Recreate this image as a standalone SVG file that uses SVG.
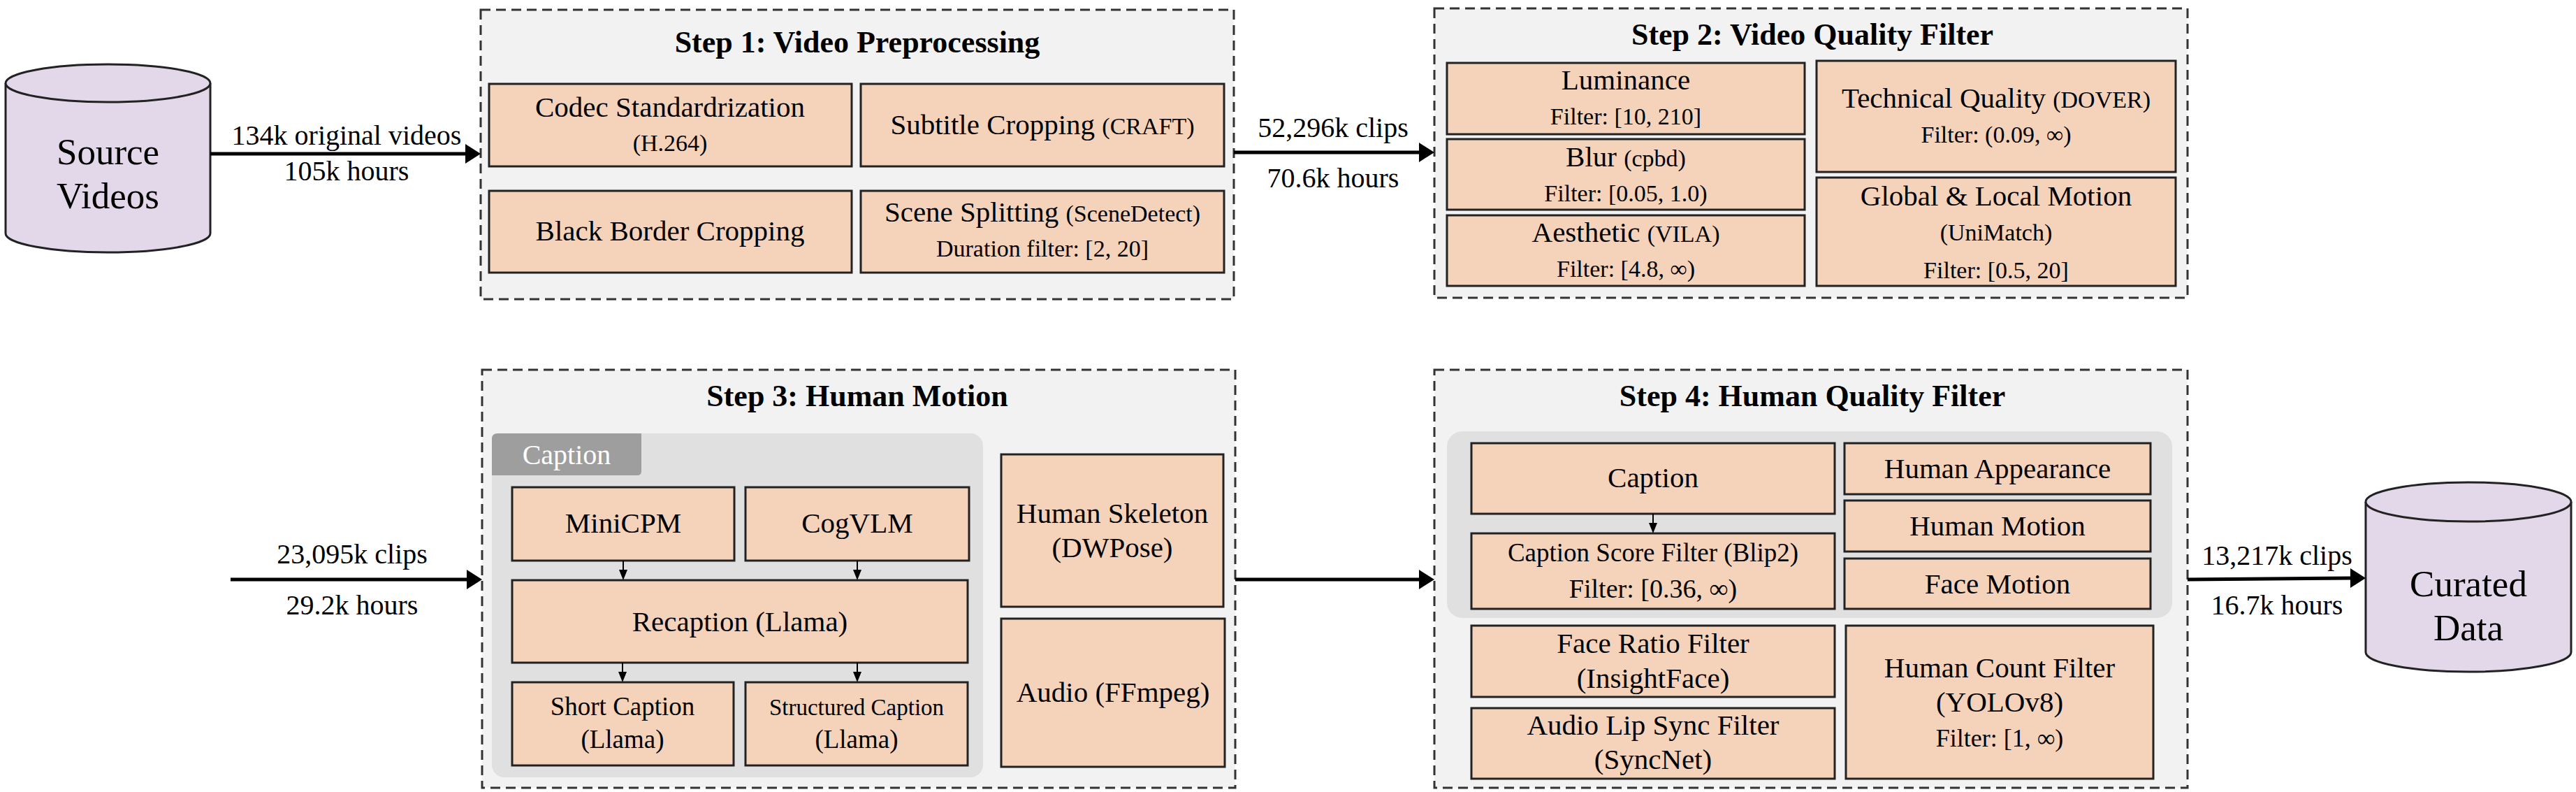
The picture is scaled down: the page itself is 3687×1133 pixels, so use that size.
<svg xmlns="http://www.w3.org/2000/svg" width="3687" height="1133" viewBox="0 0 3687 1133">
<style>
text{font-family:"Liberation Serif","Times New Roman",serif;fill:#000;text-anchor:middle}
.step{fill:#f2f2f2;stroke:#333;stroke-width:3;stroke-dasharray:14 8}
.title{font-size:44px;font-weight:bold}
.b{fill:#f5d3ba;stroke:#222;stroke-width:3}
.t{font-size:41px}
.s{font-size:34px}
.grp{fill:#e0e0e0}
.cyl{fill:#e3d8e9;stroke:#222;stroke-width:3}
.big{font-size:53px}
.lbl{font-size:40px}
.ln{stroke:#000;stroke-width:5;fill:none}
.ln2{stroke:#000;stroke-width:2;fill:none}
</style>

<g id="source">
<path class="cyl" d="M8,119 L8,334 A146.5,27 0 0 0 301,334 L301,119"/>
<ellipse class="cyl" cx="154.5" cy="119" rx="146.5" ry="27"/>
<text class="big" x="154.5" y="235">Source</text>
<text class="big" x="154.5" y="298">Videos</text>
</g>

<g id="step1">
<rect class="step" x="688" y="14" width="1078" height="414"/>
<text class="title" x="1227" y="75">Step 1: Video Preprocessing</text>
<rect class="b" x="700" y="120" width="519" height="118"/>
<text class="t" x="959" y="167">Codec Standardrization</text>
<text class="s" x="959" y="216">(H.264)</text>
<rect class="b" x="1232" y="120" width="520" height="118"/>
<text class="t" x="1492" y="192">Subtitle Cropping <tspan class="s">(CRAFT)</tspan></text>
<rect class="b" x="700" y="273" width="519" height="117"/>
<text class="t" x="959" y="344">Black Border Cropping</text>
<rect class="b" x="1232" y="273" width="520" height="117"/>
<text class="t" x="1492" y="317">Scene Splitting <tspan class="s">(SceneDetect)</tspan></text>
<text class="s" x="1492" y="367">Duration filter: [2, 20]</text>
</g>

<g id="step2">
<rect class="step" x="2053" y="12" width="1078" height="414"/>
<text class="title" x="2594" y="64">Step 2: Video Quality Filter</text>
<rect class="b" x="2071" y="90" width="512" height="102"/>
<text class="t" x="2327" y="128">Luminance</text>
<text class="s" x="2327" y="178">Filter: [10, 210]</text>
<rect class="b" x="2071" y="199" width="512" height="101"/>
<text class="t" x="2327" y="238">Blur <tspan class="s">(cpbd)</tspan></text>
<text class="s" x="2327" y="288">Filter: [0.05, 1.0)</text>
<rect class="b" x="2071" y="308" width="512" height="101"/>
<text class="t" x="2327" y="346">Aesthetic <tspan class="s">(VILA)</tspan></text>
<text class="s" x="2327" y="396">Filter: [4.8, ∞)</text>
<rect class="b" x="2600" y="87" width="514" height="159"/>
<text class="t" x="2857" y="154">Technical Quality <tspan class="s">(DOVER)</tspan></text>
<text class="s" x="2857" y="204">Filter: (0.09, ∞)</text>
<rect class="b" x="2600" y="254" width="514" height="155"/>
<text class="t" x="2857" y="294">Global &amp; Local Motion</text>
<text class="s" x="2857" y="344">(UniMatch)</text>
<text class="s" x="2857" y="398">Filter: [0.5, 20]</text>
</g>

<g id="step3">
<rect class="step" x="690" y="529" width="1078" height="598"/>
<text class="title" x="1227" y="581">Step 3: Human Motion</text>
<rect class="grp" x="704" y="620" width="703" height="492" rx="18"/>
<path d="M704,680 L704,628 Q704,620 712,620 L918,620 L918,674 Q918,680 912,680 Z" fill="#9e9e9e"/>
<text x="811" y="664" style="font-size:40px;fill:#fff">Caption</text>
<rect class="b" x="733" y="697" width="318" height="105"/>
<text class="t" x="892" y="762">MiniCPM</text>
<rect class="b" x="1067" y="697" width="320" height="105"/>
<text class="t" x="1227" y="762">CogVLM</text>
<rect class="b" x="733" y="830" width="652" height="118"/>
<text class="t" x="1059" y="903">Recaption (Llama)</text>
<rect class="b" x="733" y="976" width="317" height="119"/>
<text x="891" y="1023" style="font-size:37px">Short Caption</text>
<text x="891" y="1070" style="font-size:37px">(Llama)</text>
<rect class="b" x="1067" y="976" width="318" height="119"/>
<text x="1226" y="1023" style="font-size:33px">Structured Caption</text>
<text x="1226" y="1070" style="font-size:37px">(Llama)</text>
<rect class="b" x="1433" y="650" width="318" height="218"/>
<text class="t" x="1592" y="748">Human Skeleton</text>
<text class="t" x="1592" y="797">(DWPose)</text>
<rect class="b" x="1433" y="885" width="320" height="212"/>
<text class="t" x="1593" y="1004">Audio (FFmpeg)</text>
</g>

<g id="step4">
<rect class="step" x="2053" y="529" width="1078" height="598"/>
<text class="title" x="2594" y="581">Step 4: Human Quality Filter</text>
<rect class="grp" x="2071" y="617" width="1038" height="267" rx="22"/>
<rect class="b" x="2106" y="634" width="520" height="101"/>
<text class="t" x="2366" y="697">Caption</text>
<rect class="b" x="2106" y="763" width="520" height="108"/>
<text x="2366" y="803" style="font-size:37px">Caption Score Filter (Blip2)</text>
<text x="2366" y="855" style="font-size:38px">Filter: [0.36, ∞)</text>
<rect class="b" x="2640" y="634" width="438" height="73"/>
<text class="t" x="2859" y="684">Human Appearance</text>
<rect class="b" x="2640" y="716" width="438" height="73"/>
<text class="t" x="2859" y="766">Human Motion</text>
<rect class="b" x="2640" y="799" width="438" height="72"/>
<text class="t" x="2859" y="849">Face Motion</text>
<rect class="b" x="2106" y="895" width="520" height="102"/>
<text class="t" x="2366" y="934">Face Ratio Filter</text>
<text class="t" x="2366" y="984">(InsightFace)</text>
<rect class="b" x="2106" y="1013" width="520" height="101"/>
<text class="t" x="2366" y="1051">Audio Lip Sync Filter</text>
<text class="t" x="2366" y="1100">(SyncNet)</text>
<rect class="b" x="2642" y="895" width="440" height="219"/>
<text class="t" x="2862" y="969">Human Count Filter</text>
<text class="t" x="2862" y="1018">(YOLOv8)</text>
<text x="2862" y="1068" style="font-size:36px">Filter: [1, ∞)</text>
</g>

<g id="curated">
<path class="cyl" d="M3386,718 L3386,933 A147,28 0 0 0 3680,933 L3680,718"/>
<ellipse class="cyl" cx="3533" cy="718" rx="147" ry="28"/>
<text class="big" x="3533" y="853">Curated</text>
<text class="big" x="3533" y="916">Data</text>
</g>

<g id="connectors">
<line class="ln" x1="301" y1="220" x2="668" y2="220"/><path d="M666,206 L688,220 L666,234 Z"/>
<line class="ln" x1="1766" y1="218" x2="2033" y2="218"/><path d="M2031,204 L2053,218 L2031,232 Z"/>
<line class="ln" x1="330" y1="829" x2="670" y2="829"/><path d="M668,815 L690,829 L668,843 Z"/>
<line class="ln" x1="1768" y1="829" x2="2033" y2="829"/><path d="M2031,815 L2053,829 L2031,843 Z"/>
<line class="ln" x1="3131" y1="829" x2="3366" y2="827"/><path d="M3364,813 L3386,827 L3364,841 Z"/>
<line class="ln2" x1="892" y1="802" x2="892" y2="816"/><path d="M886,815 L892,830 L898,815 Z"/>
<line class="ln2" x1="1227" y1="802" x2="1227" y2="816"/><path d="M1221,815 L1227,830 L1233,815 Z"/>
<line class="ln2" x1="891" y1="948" x2="891" y2="962"/><path d="M885,961 L891,976 L897,961 Z"/>
<line class="ln2" x1="1227" y1="948" x2="1227" y2="962"/><path d="M1221,961 L1227,976 L1233,961 Z"/>
<line class="ln2" x1="2366" y1="735" x2="2366" y2="749"/><path d="M2360,748 L2366,763 L2372,748 Z"/>
<text class="lbl" x="496" y="207">134k original videos</text>
<text class="lbl" x="496" y="258">105k hours</text>
<text class="lbl" x="1908" y="196">52,296k clips</text>
<text class="lbl" x="1908" y="268">70.6k hours</text>
<text class="lbl" x="504" y="806">23,095k clips</text>
<text class="lbl" x="504" y="879">29.2k hours</text>
<text class="lbl" x="3259" y="808">13,217k clips</text>
<text class="lbl" x="3259" y="879">16.7k hours</text>
</g>
</svg>
